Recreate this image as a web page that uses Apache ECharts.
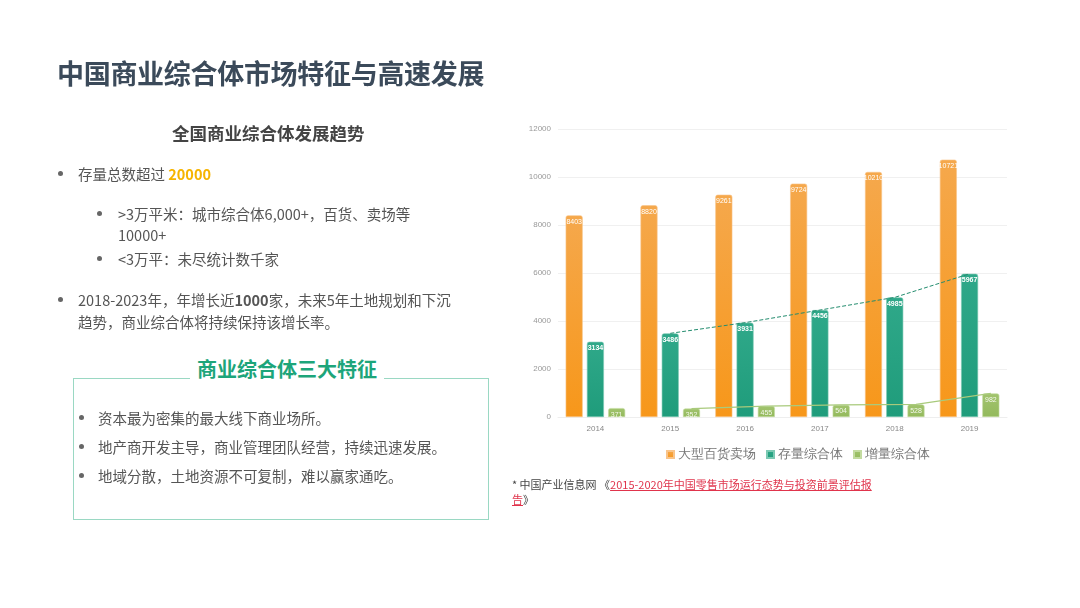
<!DOCTYPE html>
<html>
<head>
<meta charset="utf-8">
<script src="https://cdn.jsdelivr.net/npm/echarts@6/dist/echarts.min.js"></script>
<style>
  html, body { margin: 0; padding: 0; background: #fff; }
  #page { position: relative; width: 1080px; height: 608px; overflow: hidden; font-family: "Noto Sans CJK SC", "Noto Sans", sans-serif; color: #555; }
  #chart { position: absolute; left: 0; top: 0; width: 1080px; height: 608px; }
  .t { position: absolute; white-space: nowrap; }
  .title { left: 57px; top: 53px; font-size: 27px; font-weight: bold; color: #3b4a5a; letter-spacing: -0.3px; }
  .sub { left: 172px; top: 120px; font-size: 17.5px; font-weight: bold; color: #444; }
  .b { font-size: 14.5px; color: #555; }
  .dot { position: absolute; width: 5px; height: 5px; border-radius: 50%; background: #666; }
  .box { position: absolute; left: 73px; top: 378px; width: 414px; height: 140px; border: 1px solid #9ad8c3; }
  .boxTitle { position: absolute; left: 190px; top: 354px; padding: 0 7px; background: #fff; font-size: 20px; font-weight: bold; color: #1da57a; }
  .note { font-size: 11px; color: #444; }
  .note a { color: #e0344c; text-decoration: underline; }
</style>
</head>
<body>
<div id="page">
  <div id="chart"></div>

  <div class="t title">中国商业综合体市场特征与高速发展</div>
  <div class="t sub">全国商业综合体发展趋势</div>

  <div class="dot" style="left:58px;top:171px"></div>
  <div class="t b" style="left:78px;top:163px">存量总数超过 <b style="color:#f6b400">20000</b></div>

  <div class="dot" style="left:97px;top:211px"></div>
  <div class="t b" style="left:118px;top:203px">&gt;3万平米：城市综合体6,000+，百货、卖场等</div>
  <div class="t b" style="left:118px;top:224px">10000+</div>
  <div class="dot" style="left:97px;top:256px"></div>
  <div class="t b" style="left:118px;top:248px">&lt;3万平：未尽统计数千家</div>

  <div class="dot" style="left:58px;top:297px"></div>
  <div class="t b" style="left:78px;top:289px">2018-2023年，年增长近<b>1000</b>家，未来5年土地规划和下沉</div>
  <div class="t b" style="left:78px;top:311px">趋势，商业综合体将持续保持该增长率。</div>

  <div class="box"></div>
  <div class="t boxTitle">商业综合体三大特征</div>
  <div class="dot" style="left:79px;top:415px"></div>
  <div class="t b" style="left:98px;top:407px">资本最为密集的最大线下商业场所。</div>
  <div class="dot" style="left:79px;top:444px"></div>
  <div class="t b" style="left:98px;top:436px">地产商开发主导，商业管理团队经营，持续迅速发展。</div>
  <div class="dot" style="left:79px;top:473px"></div>
  <div class="t b" style="left:98px;top:465px">地域分散，土地资源不可复制，难以赢家通吃。</div>

  <div class="t note" style="left:512px;top:476px">* 中国产业信息网 《<a>2015-2020年中国零售市场运行态势与投资前景评估报</a></div>
  <div class="t note" style="left:512px;top:491px"><a>告</a>》</div>
</div>
<script>
  const years = ["2014", "2015", "2016", "2017", "2018", "2019"];
  const bigStores = [8403, 8820, 9261, 9724, 10210, 10721];
  const stockMalls = [3134, 3486, 3931, 4456, 4985, 5967];
  const newMalls = [371, 352, 455, 504, 528, 982];
  // trend lines start in 2015
  const trendStart = 1;
  const yTicks = { min: 0, max: 12000, interval: 2000 };

  const barW = 17;
  const catW = 449 / years.length;
  const newOffset = (barW * 1.25) / catW;

  function grad(top, bottom) {
    return new echarts.graphic.LinearGradient(0, 0, 0, 1, [
      { offset: 0, color: top },
      { offset: 1, color: bottom },
    ]);
  }

  const chart = echarts.init(document.getElementById("chart"));
  const barLabel = {
    show: true,
    position: "insideTop",
    distance: 3,
    color: "#fff",
    fontSize: 7,
  };
  chart.setOption({
    animation: false,
    grid: { left: 558, right: 73, top: 129, bottom: 191 },
    legend: {
      data: ["大型百货卖场", "存量综合体", "增量综合体"],
      left: 661,
      top: 443,
      icon: "rect",
      itemWidth: 7,
      itemHeight: 7,
      itemGap: 10,
      textStyle: { color: "#777", fontSize: 13, padding: [0, 0, 0, -1] },
    },
    xAxis: [
      {
        type: "category",
        data: years,
        axisLine: { lineStyle: { color: "#eee" } },
        axisTick: { show: false },
        axisLabel: { color: "#888", fontSize: 8, margin: 8 },
      },
      { type: "value", min: -0.5, max: years.length - 0.5, show: false },
    ],
    yAxis: {
      type: "value",
      min: yTicks.min,
      max: yTicks.max,
      interval: yTicks.interval,
      axisLine: { show: false },
      axisTick: { show: false },
      axisLabel: { color: "#999", fontSize: 8, margin: 7, formatter: (v) => String(v) },
      splitLine: { lineStyle: { color: "#f0f0f0" } },
    },
    series: [
      {
        name: "大型百货卖场",
        type: "bar",
        barWidth: barW,
        barGap: "25%",
        data: bigStores,
        itemStyle: { color: grad("#f5a84c", "#f7971a"), borderRadius: [2, 2, 0, 0], borderColor: "#f9c48a", borderWidth: 0.6 },
        label: barLabel,
      },
      {
        name: "存量综合体",
        type: "bar",
        barWidth: barW,
        data: stockMalls,
        itemStyle: { color: grad("#2fa889", "#1f9c7b"), borderRadius: [2, 2, 0, 0], borderColor: "#7cc9b3", borderWidth: 0.6 },
        label: Object.assign({}, barLabel, { fontWeight: "bold" }),
      },
      {
        name: "增量综合体",
        type: "bar",
        barWidth: barW,
        data: newMalls,
        itemStyle: { color: grad("#a2c46e", "#93b95c"), borderRadius: [2, 2, 0, 0], borderColor: "#c3dba0", borderWidth: 0.6 },
        label: Object.assign({}, barLabel, { color: "#f4f8ec" }),
      },
      {
        name: "存量趋势",
        type: "line",
        xAxisIndex: 1,
        symbol: "none",
        z: 5,
        lineStyle: { color: "#238c6e", width: 1, type: [4, 2] },
        data: stockMalls.slice(trendStart).map((v, i) => [i + trendStart, v]),
      },
      {
        name: "增量趋势",
        type: "line",
        xAxisIndex: 1,
        symbol: "none",
        z: 5,
        lineStyle: { color: "#a9ca7c", width: 1.2 },
        data: newMalls.slice(trendStart).map((v, i) => [i + trendStart + newOffset, v]),
      },
    ],
  });
</script>
</body>
</html>
